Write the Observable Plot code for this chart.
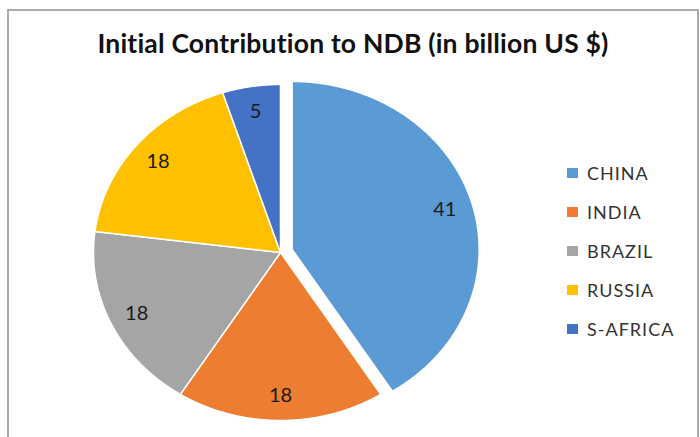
<!DOCTYPE html>
<html>
<head>
<meta charset="utf-8">
<script src="https://cdn.jsdelivr.net/npm/d3@7"></script>
<script src="https://cdn.jsdelivr.net/npm/@observablehq/plot@0.6"></script>
<style>
  html, body { margin: 0; padding: 0; background: #fff; }
  #wrap { position: relative; width: 700px; height: 437px; overflow: hidden; background: #fff; }
  #frame { position: absolute; left: 7px; top: 9px; width: 688px; height: 520px; border: 2px solid #ababab; border-bottom: none; }
  #title { position: absolute; left: 7px; width: 692px; top: 27px; text-align: center; font-family: Lato, sans-serif; font-weight: bold; font-size: 26.5px; color: #111; letter-spacing: 0.2px; }
  #chart { position: absolute; left: 0; top: 77px; }
  #legend { position: absolute; left: 567px; top: 153px; width: 130px; }
  .lg-swatch { height: 39px; padding-bottom: 0 !important; }
</style>
</head>
<body>
<div id="wrap">
  <div id="frame"></div>
  <div id="title">Initial Contribution to NDB (in billion US $)</div>
  <div id="chart"></div>
  <div id="legend"></div>
</div>
<script>
const names = ["CHINA", "INDIA", "BRAZIL", "RUSSIA", "S-AFRICA"];
const values = [41, 18, 18, 18, 5];
const colors = ["#5B9BD5", "#ED7D31", "#A5A5A5", "#FFC000", "#4472C4"];
const exploded = ["CHINA"];
const explodeAmount = 0.065;
const labelRadius = 0.85;

const data = names.map((name, i) => ({name, value: values[i]}));
const arcs = d3.pie().sort(null).value(d => d.value).startAngle(0).endAngle(2 * Math.PI)(data);

const pts = [];
const labels = [];
for (const a of arcs) {
  const mid = (a.startAngle + a.endAngle) / 2;
  const e = exploded.includes(a.data.name) ? explodeAmount : 0;
  const ox = e * Math.sin(mid), oy = e * Math.cos(mid);
  const n = Math.max(2, Math.ceil((a.endAngle - a.startAngle) / (Math.PI / 360)));
  pts.push({name: a.data.name, x: ox, y: oy});
  for (let k = 0; k <= n; k++) {
    const t = a.startAngle + (a.endAngle - a.startAngle) * k / n;
    pts.push({name: a.data.name, x: ox + Math.sin(t), y: oy + Math.cos(t)});
  }
  pts.push({name: a.data.name, x: ox, y: oy});
  labels.push({name: a.data.name, value: a.data.value,
    x: ox + labelRadius * Math.sin(mid), y: oy + labelRadius * Math.cos(mid)});
}

const colorScale = {domain: names, range: colors, type: "ordinal"};

const chart = Plot.plot({
  width: 700,
  height: 360,
  marginLeft: 93,
  marginRight: 233,
  marginTop: 7,
  marginBottom: 17,
  x: {domain: [-1, 1], axis: null},
  y: {domain: [-1, 1], axis: null},
  color: colorScale,
  style: {background: "transparent", overflow: "visible"},
  marks: [
    Plot.line(pts, {x: "x", y: "y", z: "name", fill: "name", stroke: "white", strokeWidth: 1.5, curve: "linear"}),
    Plot.text(labels, {x: "x", y: "y", text: d => String(d.value), fontSize: 20, fill: "#1a1a1a",
      fontFamily: "Lato, sans-serif", letterSpacing: 0.6})
  ]
});
document.getElementById("chart").append(chart);

const legend = Plot.legend({
  color: colorScale,
  legend: "swatches",
  columns: 1,
  swatchWidth: 11,
  swatchHeight: 10,
  className: "lg",
  style: {fontSize: "18px", fontFamily: "Lato, sans-serif", color: "#333333", letterSpacing: "1px", margin: "0"}
});
document.getElementById("legend").append(legend);
</script>
</body>
</html>
